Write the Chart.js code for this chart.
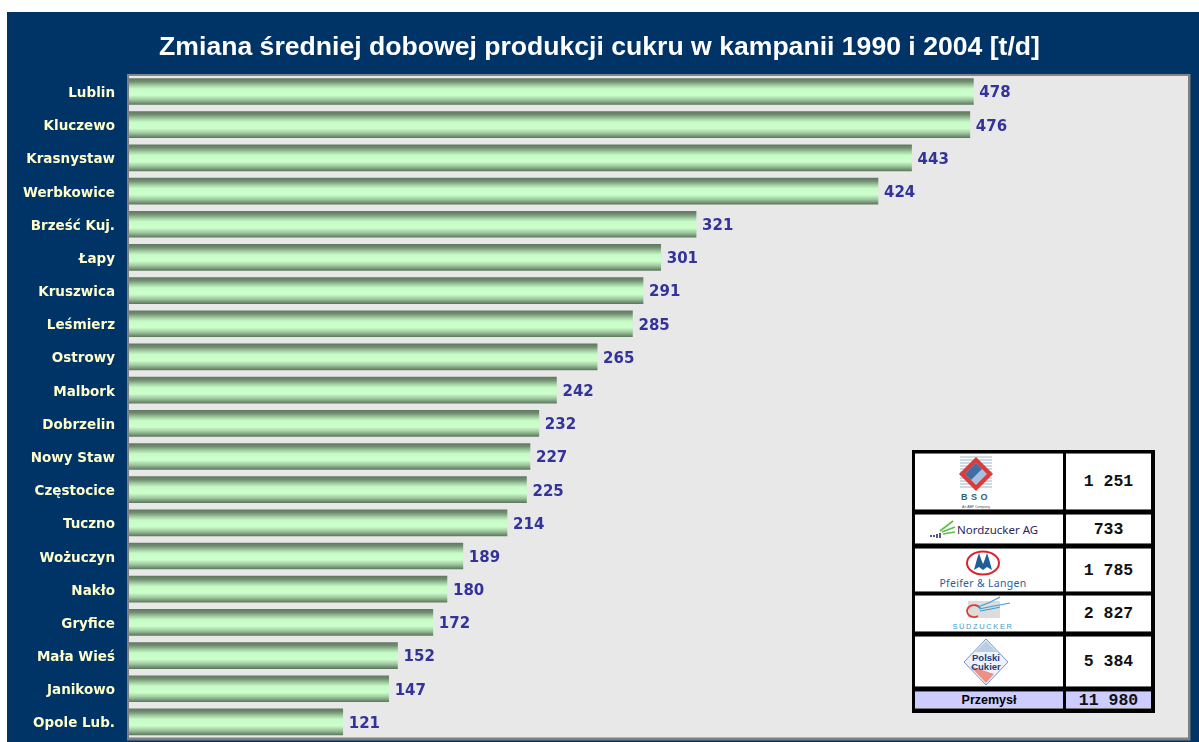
<!DOCTYPE html>
<html lang="pl">
<head>
<meta charset="utf-8">
<title>Zmiana średniej dobowej produkcji cukru</title>
<script src="https://cdn.jsdelivr.net/npm/chart.js@4"></script>
<style>
html, body { margin: 0; padding: 0; background: #fff; overflow: hidden; }
#wrap { position: relative; width: 1199px; height: 742px; }
#sugarChart { display: block; }
#panel { position: absolute; left: 912px; top: 450px; width: 243px; height: 263px; background: #000; }
.cell { position: absolute; background: #fff; box-sizing: border-box; border-top: 1px solid #777; border-bottom: 1px solid #777;
    display: flex; align-items: center; justify-content: center; }
.cell.num { font: bold 16.5px "Liberation Mono", monospace; color: #111; white-space: pre; }
.cell.sum { background: #ccccff; }
.cell.name { font: bold 12.5px "Liberation Sans", sans-serif; color: #000; }
.cell svg { display: block; }
</style>
</head>
<body>
<div id="wrap">
    <canvas id="sugarChart" width="1199" height="742"></canvas>
    <div id="panel"></div>
</div>
<script>
const titleText = 'Zmiana średniej dobowej produkcji cukru w kampanii 1990 i 2004 [t/d]';
const factories = ['Lublin', 'Kluczewo', 'Krasnystaw', 'Werbkowice', 'Brześć Kuj.', 'Łapy', 'Kruszwica', 'Leśmierz', 'Ostrowy', 'Malbork',
    'Dobrzelin', 'Nowy Staw', 'Częstocice', 'Tuczno', 'Wożuczyn', 'Nakło', 'Gryfice', 'Mała Wieś', 'Janikowo', 'Opole Lub.'];
const growth = [478, 476, 443, 424, 321, 301, 291, 285, 265, 242, 232, 227, 225, 214, 189, 180, 172, 152, 147, 121];
const groupTotals = ['1 251', '733', '1 785', '2 827', '5 384'];
const industryLabel = 'Przemysł';
const industryTotal = '11 980';

// logos redrawn by hand, same order as groupTotals
const logos = [
    `<svg style="transform:translateX(-13px)" width="60" height="56" viewBox="0 0 60 56">
        <g stroke="#9db4c8" stroke-width="1"><path d="M14 3h32M14 6h32M14 9h32M14 12h32M14 15h32M14 18h32M14 21h32M14 24h32M14 27h32M14 30h32M14 33h32"/></g>
        <path d="M30 3 L47 20 L30 37 L13 20 Z" fill="#dc3b3b"/>
        <path d="M30 9 L41 20 L30 31 L19 20 Z" fill="#a9bfdc"/>
        <path d="M30 9 L36 15 L25 26 L19 20 Z" fill="#3f6ea5"/>
        <text x="30" y="46" text-anchor="middle" font-family="Liberation Sans" font-weight="bold" font-size="9" letter-spacing="3.5" fill="#2f6178">BSO</text>
        <text x="30" y="54" text-anchor="middle" font-family="Liberation Sans" font-size="3.5" fill="#456">An ABF Company</text>
    </svg>`,
    `<svg style="transform:translateX(-4px)" width="114" height="24" viewBox="0 0 114 24">
        <g fill="none" stroke-width="1.6"><path d="M12 14 L25 4" stroke="#5cc04a"/><path d="M14 15 L27 10" stroke="#5cc04a"/><path d="M15 17 L27 15" stroke="#5cc04a"/>
        <path d="M12 16 L12 21 M9 17 L9 21 M6 18 L6 20 M3 18 L3 20" stroke="#2c2c66"/></g>
        <text x="29" y="17" font-family="Noto Sans" font-size="11.5" fill="#27275f">Nordzucker AG</text>
    </svg>`,
    `<svg style="transform:translateX(-4px)" width="92" height="42" viewBox="0 0 92 42">
        <ellipse cx="44" cy="14" rx="16" ry="11.5" fill="#fff" stroke="#d8252b" stroke-width="2"/>
        <path d="M35 21 L38 10 L40 4 L42 10 L44 15 L46 10 L48 4 L50 10 L53 21 L48 18 L44 21 L40 18 Z" fill="#1f5f97"/>
        <text x="44" y="38" text-anchor="middle" font-family="Noto Sans" font-size="10.5" letter-spacing=".3" fill="#1f6397">Pfeifer &amp; Langen</text>
    </svg>`,
    `<svg style="transform:translateX(-6px)" width="72" height="36" viewBox="0 0 72 36">
        <rect x="21" y="5" width="32" height="17" fill="#dcdcdc"/>
        <path d="M33 12 A7 6 0 1 0 31 20" fill="none" stroke="#e23a33" stroke-width="1.8"/>
        <path d="M31 11 Q43 7 53 1 M32 13 Q47 10 63 7 M33 15 Q45 13 53 11" fill="none" stroke="#3aa0d8" stroke-width="1.1"/>
        <text x="36" y="33" text-anchor="middle" font-family="Liberation Sans" font-size="7.5" letter-spacing="1.6" fill="#3f9bc8">SÜDZUCKER</text>
    </svg>`,
    `<svg style="transform:translateX(-3px)" width="50" height="48" viewBox="0 0 50 48">
        <path d="M25 1 L47 24 L25 47 L3 24 Z" fill="#eef2f8" stroke="#6f97bf" stroke-width="1"/>
        <path d="M25 3 L36 14 L14 14 Z" fill="#b9cde3"/>
        <path d="M9 28 L25 45 L33 36 Z" fill="#ee8f86"/>
        <text x="25" y="23" text-anchor="middle" font-family="Liberation Sans" font-weight="bold" font-size="9.5" fill="#1f3f7f">Polski</text>
        <text x="25" y="32" text-anchor="middle" font-family="Liberation Sans" font-weight="bold" font-size="9.5" fill="#1f3f7f">Cukier</text>
    </svg>`
];

// rows of the small table: top and height inside the black panel
const panelRows = [[3, 57], [64, 30], [98, 44], [145, 37], [186, 51]];

function addCell(panel, cls, left, top, width, height, html) {
    const cell = document.createElement('div');
    cell.className = 'cell ' + cls;
    cell.style.cssText = `left:${left}px;top:${top}px;width:${width}px;height:${height}px`;
    cell.innerHTML = html;
    panel.appendChild(cell);
}

const panel = document.getElementById('panel');
panelRows.forEach(function (row, i) {
    addCell(panel, 'logo', 3, row[0], 148, row[1], logos[i]);
    addCell(panel, 'num', 154, row[0], 85, row[1], groupTotals[i]);
});
addCell(panel, 'name sum', 3, 241, 148, 18, industryLabel);
addCell(panel, 'num sum', 154, 241, 85, 18, industryTotal);

function barFill(context) {
    const yScale = context.chart.scales.y;
    if (!yScale || context.dataIndex === undefined) {
        return '#ccffcc';
    }
    const mid = yScale.getPixelForValue(context.dataIndex);
    if (!Number.isFinite(mid)) {
        return '#ccffcc';
    }
    const grad = context.chart.ctx.createLinearGradient(0, mid - 13, 0, mid + 13);
    grad.addColorStop(0, '#5f7a60');
    grad.addColorStop(0.12, '#738f73');
    grad.addColorStop(0.28, '#a6d2a6');
    grad.addColorStop(0.4, '#c6fbc6');
    grad.addColorStop(0.64, '#ccffcc');
    grad.addColorStop(0.82, '#9fc89f');
    grad.addColorStop(1, '#5f7a60');
    return grad;
}

const backdrop = {
    id: 'backdrop',
    beforeDraw: function (chart) {
        const c = chart.ctx;
        const a = chart.chartArea;
        c.save();
        c.fillStyle = '#fff';
        c.fillRect(0, 0, chart.width, chart.height);
        c.fillStyle = '#003366';
        c.fillRect(7, 12, chart.width - 7, chart.height - 12);
        c.fillStyle = '#808080';
        c.fillRect(a.left - 2, a.top - 1, a.width + 4.5, a.height + 3);
        c.fillStyle = '#e8e8e8';
        c.fillRect(a.left, a.top + 1, a.width, a.height - 2);
        c.restore();
    }
};

const valueLabels = {
    id: 'valueLabels',
    afterDatasetsDraw: function (chart) {
        const c = chart.ctx;
        c.save();
        c.font = 'bold 15px "DejaVu Sans"';
        c.fillStyle = '#333399';
        c.textBaseline = 'middle';
        chart.getDatasetMeta(0).data.forEach(function (bar, i) {
            c.fillText(growth[i], bar.x + 6, bar.y + 2);
        });
        c.restore();
    }
};

new Chart(document.getElementById('sugarChart'), {
    type: 'bar',
    data: {
        labels: factories,
        datasets: [{
            data: growth,
            backgroundColor: barFill,
            barThickness: 26
        }]
    },
    plugins: [backdrop, valueLabels],
    options: {
        indexAxis: 'y',
        responsive: false,
        animation: false,
        layout: { padding: { left: 11, right: 11, top: 0, bottom: 3.5 } },
        scales: {
            x: { display: false, min: 0, max: 599.5 },
            y: {
                afterFit: function (scale) {
                    scale.width = 118;
                    scale.paddingTop = 0;
                    scale.paddingBottom = 0;
                },
                grid: { display: false, drawTicks: false },
                border: { display: false },
                ticks: {
                    autoSkip: false,
                    padding: 14,
                    labelOffset: 2,
                    color: '#ffffcc',
                    font: { family: 'DejaVu Sans', weight: 'bold', size: 13.5 }
                }
            }
        },
        plugins: {
            legend: { display: false },
            tooltip: { enabled: false },
            title: {
                display: true,
                text: titleText,
                color: '#ffffff',
                font: { family: 'Liberation Sans', weight: 'bold', size: 26.6, lineHeight: 1.2 },
                padding: { top: 32, bottom: 11 }
            }
        }
    }
});
</script>
</body>
</html>
